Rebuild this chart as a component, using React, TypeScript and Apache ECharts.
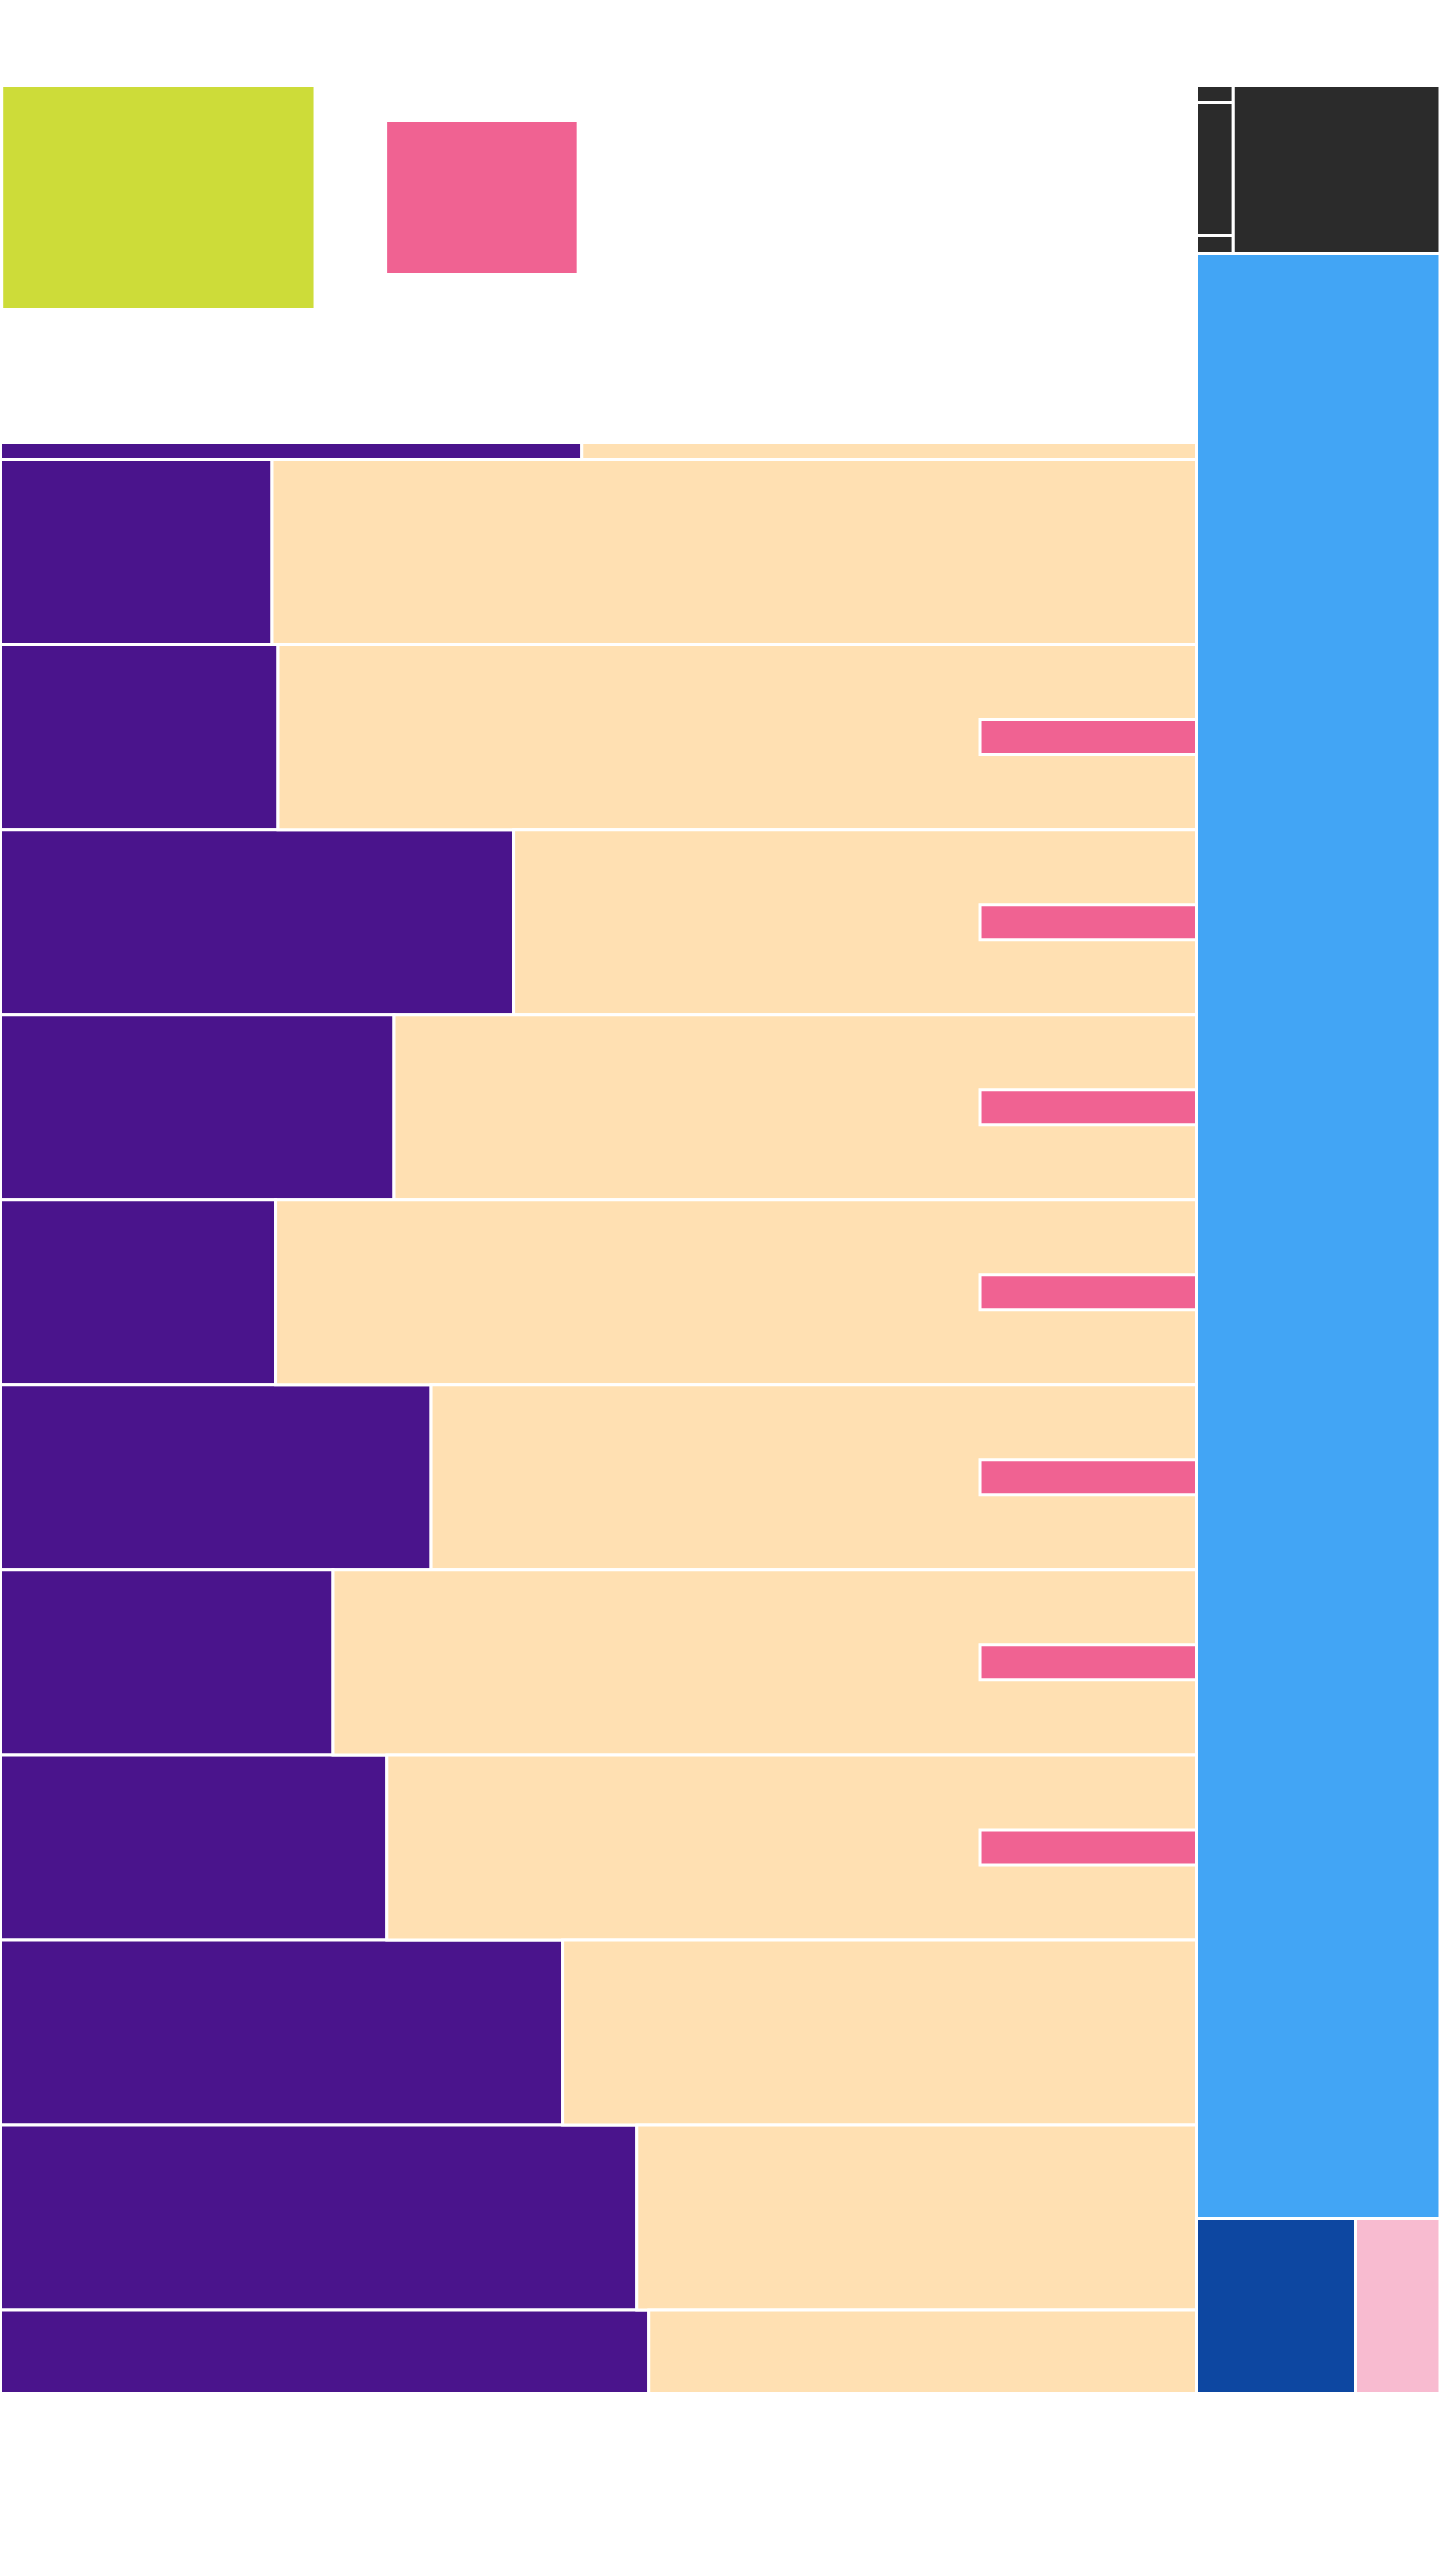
import React, { useEffect, useRef } from "react";
import * as echarts from "echarts";

// ---- Left block: 100% stacked horizontal bars (rows top to bottom) ----
const rowNames = ["R0", "R1", "R2", "R3", "R4", "R5", "R6", "R7", "R8", "R9", "R10", "R11"];
const purpleShare = [48.6, 22.7, 23.2, 42.9, 32.9, 23.0, 36.0, 27.8, 32.3, 47.0, 53.2, 54.2];
const beigeShare = [51.4, 77.3, 76.8, 57.1, 67.1, 77.0, 64.0, 72.2, 67.7, 53.0, 46.8, 45.8];
// overlay marker bars (start, end) per row, null where absent
const markerStart = [null, null, 81.9, 81.9, 81.9, 81.9, 81.9, 81.9, 81.9, null, null, null];
const markerEnd = [null, null, 100, 100, 100, 100, 100, 100, 100, null, null, null];

// ---- Top swatches ----
const swatchNames = ["Lime", "Pink"];
const swatchX0 = [0.1, 32.2];
const swatchX1 = [26.3, 48.3];
const swatchY0 = [0, 15.6];
const swatchY1 = [100, 84.4];

// ---- Right column tiles (percent of column) ----
const tileNames = ["D1", "D2", "D3", "D4", "Blue", "Navy", "Rose"];
const tileX0 = [0, 0, 0, 15.1, 0, 0, 65.3];
const tileX1 = [15.1, 15.1, 15.1, 100, 100, 65.3, 100];
const tileY0 = [0, 0.74, 6.5, 0, 7.28, 92.42, 92.42];
const tileY1 = [0.74, 6.5, 7.28, 7.28, 92.42, 100, 100];

const COLORS = {
  purple: "#4a148c",
  beige: "#ffe0b2",
  pink: "#f06292",
  lime: "#cddc39",
  dark: "#2b2b2b",
  blue: "#42a5f5",
  navy: "#0d47a1",
  rose: "#f8bbd0",
};
const swatchColors = [COLORS.lime, COLORS.pink];
const tileColors = [COLORS.dark, COLORS.dark, COLORS.dark, COLORS.dark, COLORS.blue, COLORS.navy, COLORS.rose];

const MARKER_HALF = 0.0946;

function rectItem(params: any, api: any) {
  const x0 = api.value(0);
  const x1 = api.value(1);
  const y0 = api.value(2);
  const y1 = api.value(3);
  const p0 = api.coord([x0, y0]);
  const p1 = api.coord([x1, y1]);
  const rect = {
    x: Math.min(p0[0], p1[0]),
    y: Math.min(p0[1], p1[1]),
    width: Math.abs(p1[0] - p0[0]),
    height: Math.abs(p1[1] - p0[1]),
  };
  const cs = params.coordSys;
  const clipped = echarts.graphic.clipRectByRect(rect, {
    x: cs.x,
    y: cs.y,
    width: cs.width,
    height: cs.height,
  });
  if (!clipped) return null;
  return {
    type: "rect",
    shape: clipped,
    style: { fill: api.visual("color"), stroke: "#ffffff", lineWidth: 3 },
  };
}

export default function App() {
  const ref = useRef<HTMLDivElement>(null);

  useEffect(() => {
    if (!ref.current) return;
    const chart = echarts.init(ref.current, null, { renderer: "svg" });

    const purpleData = rowNames.map((n, i) => ({
      name: n,
      value: [0, purpleShare[i], i - 0.5, i + 0.5],
      itemStyle: { color: COLORS.purple },
    }));
    const beigeData = rowNames.map((n, i) => ({
      name: n,
      value: [purpleShare[i], purpleShare[i] + beigeShare[i], i - 0.5, i + 0.5],
      itemStyle: { color: COLORS.beige },
    }));
    const markerData = rowNames
      .map((n, i) =>
        markerStart[i] == null
          ? null
          : {
              name: n,
              value: [markerStart[i], markerEnd[i], i - MARKER_HALF, i + MARKER_HALF],
              itemStyle: { color: COLORS.pink },
            }
      )
      .filter((d) => d !== null);
    const swatchData = swatchNames.map((n, i) => ({
      name: n,
      value: [swatchX0[i], swatchX1[i], swatchY0[i], swatchY1[i]],
      itemStyle: { color: swatchColors[i] },
    }));
    const tileData = tileNames.map((n, i) => ({
      name: n,
      value: [tileX0[i], tileX1[i], tileY0[i], tileY1[i]],
      itemStyle: { color: tileColors[i] },
    }));

    const hiddenValue = (min: number, max: number, inverse = false, gridIndex = 0) => ({
      type: "value",
      min,
      max,
      inverse,
      gridIndex,
      show: false,
      splitLine: { show: false },
    });

    chart.setOption({
      animation: false,
      backgroundColor: "#ffffff",
      grid: [
        { left: 0.5, top: 442.5, width: 1196, height: 1951 },
        { left: 0.5, top: 85.5, width: 1196, height: 224 },
        { left: 1196.5, top: 85.5, width: 245, height: 2308 },
      ],
      xAxis: [hiddenValue(0, 100, false, 0), hiddenValue(0, 100, false, 1), hiddenValue(0, 100, false, 2)],
      yAxis: [hiddenValue(0.408, 10.951, true, 0), hiddenValue(0, 100, true, 1), hiddenValue(0, 100, true, 2)],
      series: [
        { type: "custom", name: "purple", xAxisIndex: 0, yAxisIndex: 0, renderItem: rectItem, encode: { x: [0, 1], y: [2, 3] }, data: purpleData, z: 2 },
        { type: "custom", name: "beige", xAxisIndex: 0, yAxisIndex: 0, renderItem: rectItem, encode: { x: [0, 1], y: [2, 3] }, data: beigeData, z: 2 },
        { type: "custom", name: "marker", xAxisIndex: 0, yAxisIndex: 0, renderItem: rectItem, encode: { x: [0, 1], y: [2, 3] }, data: markerData, z: 3 },
        { type: "custom", name: "swatches", xAxisIndex: 1, yAxisIndex: 1, renderItem: rectItem, encode: { x: [0, 1], y: [2, 3] }, data: swatchData, z: 2 },
        { type: "custom", name: "tiles", xAxisIndex: 2, yAxisIndex: 2, renderItem: rectItem, encode: { x: [0, 1], y: [2, 3] }, data: tileData, z: 2 },
      ],
    });

    return () => chart.dispose();
  }, []);

  return (
    <div
      ref={ref}
      style={{ position: "absolute", left: 0, top: 0, width: 1440, height: 2560, background: "#ffffff" }}
    />
  );
}
